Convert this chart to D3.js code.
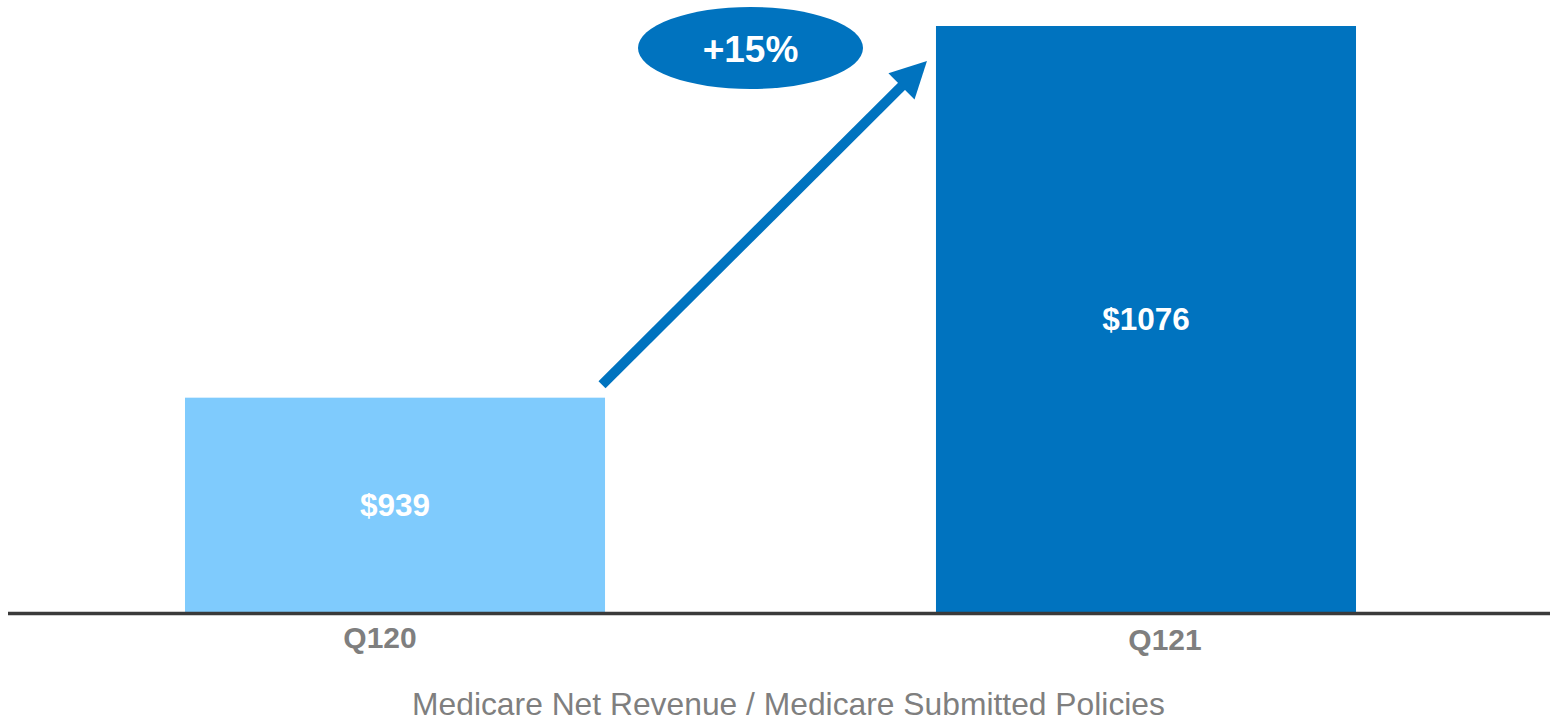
<!DOCTYPE html>
<html>
<head>
<meta charset="utf-8">
<script src="https://cdn.jsdelivr.net/npm/d3@7"></script>
<style>
  body { margin: 0; background: #fff; }
  svg { display: block; }
</style>
</head>
<body>
<svg width="1550" height="723"></svg>
<script>
// data
var quarters = ["Q120", "Q121"];
var values = [939, 1076];
var valueLabels = ["$939", "$1076"];
var barColors = ["#7fcbfd", "#0073bf"];
var growthLabel = "+15%";
var title = "Medicare Net Revenue / Medicare Submitted Policies";

var width = 1550, height = 723;
var svg = d3.select("svg");

var x = d3.scaleBand()
    .domain(quarters)
    .range([20, 1521])
    .paddingInner(0.4407)
    .paddingOuter(0.2197);

// axis starts above zero, like the original slide
var y = d3.scaleLinear()
    .domain([860, 1076])
    .range([612, 26]);

svg.selectAll("rect.bar")
    .data(quarters)
    .enter()
    .append("rect")
    .attr("class", "bar")
    .attr("x", function(d){ return x(d); })
    .attr("y", function(d, i){ return y(values[i]); })
    .attr("width", x.bandwidth())
    .attr("height", function(d, i){ return y(860) - y(values[i]); })
    .attr("fill", function(d, i){ return barColors[i]; });

// value labels inside bars
svg.selectAll("text.val")
    .data(quarters)
    .enter()
    .append("text")
    .attr("class", "val")
    .attr("x", function(d){ return x(d) + x.bandwidth() / 2; })
    .attr("y", function(d, i){ return (y(values[i]) + y(860)) / 2 + 11; })
    .attr("text-anchor", "middle")
    .attr("font-family", "Liberation Sans, Arial, sans-serif")
    .attr("font-weight", "bold")
    .attr("font-size", "31.5px")
    .attr("fill", "#fff")
    .text(function(d, i){ return valueLabels[i]; });

// baseline
svg.append("line")
    .attr("x1", 8)
    .attr("x2", width)
    .attr("y1", y(860) + 1.5)
    .attr("y2", y(860) + 1.5)
    .attr("stroke", "#3a3a3a")
    .attr("stroke-width", 3.5);

// category labels (slightly off centre in the original)
var labelShift = [-15, 19];
var labelDrop = [648, 650];
svg.selectAll("text.cat")
    .data(quarters)
    .enter()
    .append("text")
    .attr("class", "cat")
    .attr("x", function(d, i){ return x(d) + x.bandwidth() / 2 + labelShift[i]; })
    .attr("y", function(d, i){ return labelDrop[i]; })
    .attr("text-anchor", "middle")
    .attr("font-family", "Liberation Sans, Arial, sans-serif")
    .attr("font-weight", "bold")
    .attr("font-size", "30px")
    .attr("fill", "#7f7f7f")
    .text(function(d){ return d; });

// title under the axis
svg.append("text")
    .attr("x", 788.5)
    .attr("y", 715)
    .attr("text-anchor", "middle")
    .attr("font-family", "Liberation Sans, Arial, sans-serif")
    .attr("font-size", "31.8px")
    .attr("fill", "#7f7f7f")
    .text(title);

// growth arrow from first bar to second bar
var arrowColor = "#0073bf";
var x0 = x(quarters[0]) + x.bandwidth() - 3, y0 = y(values[0]) - 13;
var x1 = x(quarters[1]) - 9, y1 = y(values[1]) + 35;
var ang = Math.atan2(y1 - y0, x1 - x0);
var headLen = 36, headHalf = 18.5;
var bx = x1 - headLen * Math.cos(ang), by = y1 - headLen * Math.sin(ang);
var px = -Math.sin(ang), py = Math.cos(ang);

svg.append("line")
    .attr("x1", x0)
    .attr("y1", y0)
    .attr("x2", bx + 2 * Math.cos(ang))
    .attr("y2", by + 2 * Math.sin(ang))
    .attr("stroke", arrowColor)
    .attr("stroke-width", 10);

svg.append("path")
    .attr("d", "M" + x1 + "," + y1 +
        "L" + (bx + px * headHalf) + "," + (by + py * headHalf) +
        "L" + (bx - px * headHalf) + "," + (by - py * headHalf) + "Z")
    .attr("fill", arrowColor);

// growth bubble
svg.append("ellipse")
    .attr("cx", 750.5)
    .attr("cy", 48)
    .attr("rx", 112.5)
    .attr("ry", 41)
    .attr("fill", arrowColor);

svg.append("text")
    .attr("x", 750.5)
    .attr("y", 62)
    .attr("text-anchor", "middle")
    .attr("font-family", "Liberation Sans, Arial, sans-serif")
    .attr("font-weight", "bold")
    .attr("font-size", "37px")
    .attr("fill", "#fff")
    .text(growthLabel);
</script>
</body>
</html>
